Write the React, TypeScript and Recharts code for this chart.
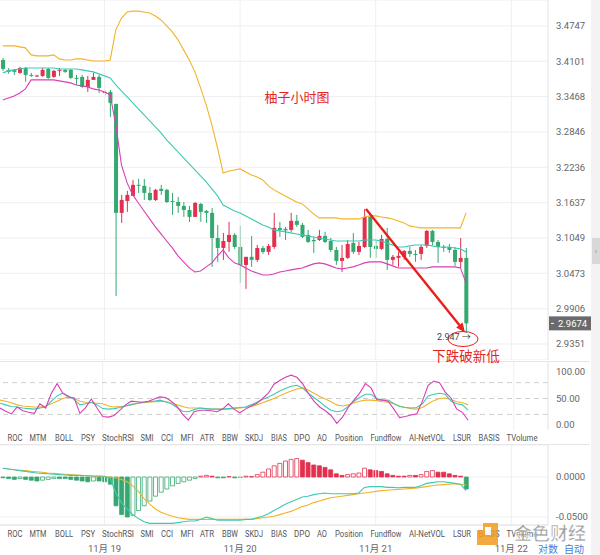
import React from 'react';
import { ComposedChart, Bar, Line, XAxis, YAxis, CartesianGrid, ReferenceLine, Cell } from 'recharts';

// hourly candles, 11/18 06:00 -> 11/21 16:00
const opens = [
  3.4125, 3.3946, 3.3946, 3.3892, 3.3981, 3.3856, 3.3838, 3.3838, 3.3963, 3.382,
  3.3928, 3.3946, 3.3946, 3.3802, 3.382, 3.3641, 3.3766, 3.382, 3.3533, 3.3551,
  3.3339, 3.1466, 3.1665, 3.175, 3.1937, 3.192, 3.1801, 3.1682, 3.1869, 3.1852,
  3.1665, 3.1648, 3.1582, 3.1515, 3.1399, 3.1615, 3.1499, 3.1466, 3.1049, 3.0886,
  3.0984, 3.11, 3.0902, 3.0609, 3.074, 3.0691, 3.0886, 3.0821, 3.0902, 3.1216,
  3.12, 3.1183, 3.1333, 3.1266, 3.11, 3.1016, 3.1016, 3.1083, 3.1, 3.0853,
  3.0674, 3.0723, 3.0968, 3.0821, 3.0902, 3.1399, 3.0919, 3.087, 3.1033, 3.0691,
  3.0723, 3.074, 3.0837, 3.0788, 3.0788, 3.0919, 3.1166, 3.0984, 3.0902, 3.0902,
  3.0853, 3.0658, 3.0723,
];
const highs = [
  3.4162, 3.3981, 3.3963, 3.3999, 3.3999, 3.3892, 3.3856, 3.3981, 3.3981, 3.3946,
  3.3981, 3.3963, 3.3963, 3.3856, 3.3856, 3.3838, 3.3892, 3.3856, 3.3587, 3.3587,
  3.3339, 3.1767, 3.1835, 3.2021, 3.2038, 3.2038, 3.1903, 3.1869, 3.1937, 3.1869,
  3.1801, 3.1733, 3.1648, 3.1582, 3.1648, 3.1632, 3.1515, 3.1549, 3.1266, 3.1133,
  3.1316, 3.1133, 3.125, 3.074, 3.1083, 3.0935, 3.0919, 3.0951, 3.1466, 3.1316,
  3.1233, 3.1466, 3.1432, 3.1299, 3.1183, 3.1067, 3.1183, 3.115, 3.1049, 3.0902,
  3.0935, 3.1016, 3.1133, 3.0984, 3.1532, 3.1432, 3.1016, 3.11, 3.1216, 3.0772,
  3.0821, 3.0853, 3.0902, 3.0853, 3.0935, 3.1183, 3.1183, 3.1016, 3.0935, 3.0951,
  3.0902, 3.1049, 3.0886,
];
const lows = [
  3.3928, 3.3874, 3.3856, 3.3874, 3.373, 3.382, 3.382, 3.382, 3.3784, 3.3802,
  3.3838, 3.3892, 3.3784, 3.3676, 3.3623, 3.3551, 3.3766, 3.3533, 3.348, 3.311,
  3.0109, 3.1299, 3.1482, 3.175, 3.1801, 3.1682, 3.1665, 3.1665, 3.1767, 3.1632,
  3.1432, 3.1466, 3.1399, 3.1316, 3.1399, 3.1316, 3.1299, 3.0577, 3.0658, 3.0691,
  3.0821, 3.087, 3.0318, 3.0222, 3.0577, 3.0658, 3.0788, 3.0772, 3.087, 3.1067,
  3.1016, 3.115, 3.1233, 3.1049, 3.0968, 3.0805, 3.1, 3.0968, 3.0821, 3.0609,
  3.0495, 3.0707, 3.0788, 3.0772, 3.0886, 3.0723, 3.0723, 3.0853, 3.0528, 3.0609,
  3.0577, 3.0691, 3.074, 3.0658, 3.0691, 3.0886, 3.0935, 3.0642, 3.0821, 3.0805,
  3.0593, 3.056, 2.952,
];
const closes = [
  3.3963, 3.391, 3.391, 3.3981, 3.3856, 3.3848, 3.3845, 3.3946, 3.3802, 3.3928,
  3.3946, 3.391, 3.3802, 3.3784, 3.3641, 3.3766, 3.382, 3.3623, 3.3551, 3.3356,
  3.1466, 3.1682, 3.1767, 3.1937, 3.192, 3.1801, 3.1682, 3.1852, 3.1835, 3.1648,
  3.1655, 3.1582, 3.1515, 3.1399, 3.1632, 3.1482, 3.1466, 3.1049, 3.0886, 3.1,
  3.11, 3.0902, 3.0609, 3.074, 3.0691, 3.0886, 3.0821, 3.0919, 3.1216, 3.1183,
  3.1175, 3.1333, 3.1266, 3.1067, 3.0984, 3.0995, 3.1083, 3.0984, 3.0853, 3.0674,
  3.0723, 3.0951, 3.0821, 3.0919, 3.1399, 3.0902, 3.087, 3.1033, 3.0691, 3.074,
  3.0756, 3.0837, 3.0788, 3.078, 3.0902, 3.1166, 3.0984, 3.0902, 3.0886, 3.0853,
  3.0658, 3.0723, 2.9674,
];

// BOLL
const bollUpper = [
  3.4381, 3.4381, 3.4381, 3.4363, 3.4345, 3.4217, 3.4199, 3.4199, 3.4199, 3.4217,
  3.4144, 3.4125, 3.4125, 3.4144, 3.4144, 3.4125, 3.4107, 3.4107, 3.4107, 3.4125,
  3.4674, 3.4893, 3.5003, 3.5021, 3.5021, 3.5003, 3.4985, 3.493, 3.4857, 3.4747,
  3.4637, 3.4491, 3.4308, 3.4125, 3.391, 3.3623, 3.3321, 3.2969, 3.257, 3.214,
  3.2174, 3.2191, 3.2208, 3.2157, 3.2106, 3.2072, 3.2021, 3.192, 3.1852, 3.1801,
  3.175, 3.1699, 3.1648, 3.1615, 3.1532, 3.1449, 3.1382, 3.1382, 3.1382, 3.1382,
  3.1365, 3.1365, 3.1365, 3.1365, 3.1398, 3.1415, 3.1415, 3.1398, 3.1382, 3.1365,
  3.1332, 3.1299, 3.1249, 3.1232, 3.1216, 3.1216, 3.1216, 3.1216, 3.1216, 3.1216,
  3.1216, 3.1216, 3.1465,
];
const bollMid = [
  3.3892, 3.3928, 3.3946, 3.3963, 3.3981, 3.3981, 3.3981, 3.3981, 3.3981, 3.3981,
  3.3963, 3.3963, 3.3963, 3.3963, 3.3946, 3.3928, 3.391, 3.3874, 3.3838, 3.3802,
  3.3676, 3.3569, 3.3462, 3.3356, 3.3251, 3.3145, 3.304, 3.2934, 3.2829, 3.2708,
  3.2604, 3.25, 3.2397, 3.2294, 3.2191, 3.2089, 3.1987, 3.1869, 3.175, 3.1598,
  3.1548, 3.1498, 3.1465, 3.1415, 3.1365, 3.1315, 3.1265, 3.1232, 3.1183, 3.1166,
  3.115, 3.1133, 3.1116, 3.11, 3.1083, 3.1066, 3.1049, 3.1033, 3.1016, 3.1,
  3.1, 3.1, 3.1, 3.1, 3.1016, 3.1016, 3.1016, 3.1, 3.0968, 3.0935,
  3.0902, 3.0902, 3.0919, 3.0935, 3.0935, 3.0935, 3.0919, 3.0902, 3.0902, 3.0902,
  3.0886, 3.087, 3.0821,
];
const bollLower = [
  3.3409, 3.3445, 3.348, 3.3533, 3.3605, 3.3766, 3.3766, 3.3766, 3.3766, 3.3766,
  3.3748, 3.373, 3.3712, 3.3676, 3.3659, 3.3641, 3.3605, 3.3587, 3.3551, 3.3498,
  3.2969, 3.2277, 3.197, 3.1767, 3.1632, 3.1498, 3.1365, 3.1232, 3.1116, 3.1,
  3.0886, 3.0756, 3.0658, 3.056, 3.0495, 3.0511, 3.0577, 3.0642, 3.0756, 3.0853,
  3.0723, 3.0642, 3.0609, 3.056, 3.0511, 3.0479, 3.0446, 3.0446, 3.0462, 3.0495,
  3.0511, 3.0528, 3.0544, 3.056, 3.0593, 3.0626, 3.0642, 3.0626, 3.0593, 3.056,
  3.0544, 3.056, 3.0577, 3.0609, 3.0642, 3.0658, 3.0658, 3.0658, 3.0626, 3.0593,
  3.056, 3.056, 3.056, 3.056, 3.056, 3.056, 3.0577, 3.0577, 3.0577, 3.0577,
  3.0577, 3.056, 3.0318,
];

// oscillator panel (0-100)
const oscPink = [
  32, 26, 21, 34, 27, 24, 22, 40, 32, 60, 78, 60, 53, 51, 22, 33, 49, 32, 16, 15,
  18, 28, 38, 45, 44, 43, 45, 49, 53, 52, 45, 35, 20, 9, 25, 28, 28, 27, 25, 30,
  40, 30, 23, 30, 36, 41, 50, 60, 77, 84, 90, 94, 90, 78, 60, 45, 34, 27, 18, 3,
  15, 33, 47, 60, 78, 70, 48, 47, 45, 30, 14, 16, 19, 21, 45, 75, 83, 80, 62, 51,
  30, 24, 9,
];
const oscTeal = [
  41, 38, 35, 34, 32, 31, 30, 32, 34, 45, 55, 60, 55, 48, 38, 40, 43, 38, 31, 30,
  31, 33, 36, 39, 41, 43, 44, 45, 47, 44, 40, 33, 26, 25, 29, 32, 31, 30, 30, 30,
  31, 32, 33, 34, 38, 43, 48, 53, 58, 64, 69, 73, 75, 70, 60, 52, 44, 35, 28, 25,
  27, 35, 45, 52, 58, 58, 50, 47, 47, 40, 35, 33, 32, 33, 40, 55, 58, 60, 58, 45,
  40, 38, 28,
];
const oscGold = [
  47, 45, 42, 38, 36, 35, 34, 34, 36, 40, 45, 50, 53, 50, 45, 43, 42, 41, 40, 36,
  34, 35, 36, 38, 40, 42, 43, 44, 45, 44, 42, 38, 35, 32, 32, 32, 31, 30, 30, 30,
  30, 31, 32, 33, 35, 38, 42, 46, 50, 55, 60, 64, 68, 70, 66, 60, 54, 49, 44, 38,
  36, 38, 42, 45, 47, 47, 46, 44, 43, 40, 36, 33, 31, 30, 33, 40, 46, 50, 51, 48,
  44, 42, 38,
];

// MACD
const macdHist = [
  -0.001, -0.002, -0.003, -0.002, -0.003, -0.004, -0.005, -0.004, -0.003, -0.002,
  -0.002, -0.002, -0.003, -0.004, -0.005, -0.006, -0.005, -0.005, -0.006, -0.009,
  -0.036, -0.047, -0.05, -0.048, -0.042, -0.036, -0.03, -0.024, -0.019, -0.015,
  -0.011, -0.008, -0.006, -0.004, -0.002, 0.001, 0.002, 0.001, -0.001, -0.001,
  0.0005, -0.001, -0.0005, 0.001, 0.0005, 0.003, 0.006, 0.01, 0.014, 0.017,
  0.02, 0.022, 0.023, 0.021, 0.018, 0.015, 0.014, 0.012, 0.009, 0.004,
  0.002, 0.003, 0.004, 0.005, 0.011, 0.009, 0.008, 0.007, 0.004, 0.002,
  0.001, 0.001, 0.002, 0.002, 0.003, 0.007, 0.008, 0.006, 0.006, 0.004,
  0.002, 0.001, -0.015,
];
const macdDif = [
  0.011, 0.01, 0.009, 0.008, 0.007, 0.006, 0.005, 0.0045, 0.004, 0.0035,
  0.003, 0.0025, 0.002, 0.002, 0.0018, 0.0015, 0.0013, 0.0012, 0.001, -0.002,
  -0.02, -0.032, -0.04, -0.047, -0.052, -0.056, -0.058, -0.058, -0.058, -0.058,
  -0.058, -0.057, -0.056, -0.055, -0.055, -0.053, -0.05, -0.052, -0.054, -0.054,
  -0.054, -0.054, -0.054, -0.053, -0.053, -0.051, -0.049, -0.046, -0.042, -0.038,
  -0.034, -0.031, -0.028, -0.025, -0.024, -0.022, -0.021, -0.02, -0.021, -0.021,
  -0.021, -0.021, -0.021, -0.02, -0.013, -0.012, -0.012, -0.012, -0.013, -0.013,
  -0.0135, -0.013, -0.013, -0.013, -0.011, -0.008, -0.007, -0.006, -0.006, -0.007,
  -0.008, -0.009, -0.017,
];
const macdDea = [
  0.011, 0.01, 0.009, 0.0085, 0.008, 0.007, 0.0065, 0.006, 0.005, 0.0045,
  0.004, 0.0035, 0.003, 0.0025, 0.002, 0.0015, 0.001, 0.0008, 0.0005, 0,
  -0.001, -0.003, -0.006, -0.011, -0.018, -0.027, -0.034, -0.04, -0.044, -0.047,
  -0.049, -0.051, -0.052, -0.053, -0.053, -0.053, -0.053, -0.053, -0.053, -0.053,
  -0.053, -0.053, -0.053, -0.053, -0.053, -0.052, -0.051, -0.05, -0.049, -0.047,
  -0.045, -0.043, -0.04, -0.037, -0.035, -0.032, -0.03, -0.028, -0.026, -0.025,
  -0.024, -0.023, -0.022, -0.021, -0.02, -0.019, -0.018, -0.017, -0.0165, -0.016,
  -0.0155, -0.015, -0.0145, -0.014, -0.013, -0.012, -0.011, -0.01, -0.0095, -0.009,
  -0.0085, -0.009, -0.01,
];

const priceTicks = [2.9351, 2.9906, 3.0473, 3.1049, 3.1637, 3.2236, 3.2846, 3.3468, 3.4101, 3.4747];
const dayTicks = [18, 42, 66, 90];
const dayLabels = ['11月 19', '11月 20', '11月 21', '11月 22'];
const indicatorNames = ['ROC', 'MTM', 'BOLL', 'PSY', 'StochRSI', 'SMI', 'CCI', 'MFI', 'ATR', 'BBW',
  'SKDJ', 'BIAS', 'DPO', 'AO', 'Position', 'Fundflow', 'AI-NetVOL', 'LSUR', 'BASIS', 'TVolume'];
const indicatorX = [15, 38, 64, 88, 118, 147, 167, 187, 207, 230, 254, 279, 302, 322, 349, 386, 427, 462, 489, 522];
const indicatorW = [15, 17, 18, 14, 32, 13, 12, 13, 14, 16, 18, 16, 16, 10, 28, 31, 36, 18, 21, 31];

const SLOTS = 97; // chart keeps empty hours on the right
const UP = '#e2304e';
const DOWN = '#35a870';
const TEAL = '#3ec9b4';
const GOLD = '#f2b32a';
const PINK = '#d83fb4';
const AXIS_W = 52;

const data = Array.from({ length: SLOTS }, (_, i) => {
  if (i >= opens.length) return { slot: i };
  const prev = i > 0 ? macdHist[i - 1] : 0;
  return {
    slot: i,
    open: opens[i], high: highs[i], low: lows[i], close: closes[i],
    range: [lows[i], highs[i]],
    bbUp: bollUpper[i], bbMid: bollMid[i], bbLow: bollLower[i],
    oa: oscPink[i], ob: oscTeal[i], oc: oscGold[i],
    hist: macdHist[i], dif: macdDif[i], dea: macdDea[i], prevHist: prev,
  };
});

const Candle = (props: any) => {
  const { x, y, width, height, payload } = props;
  if (!payload || payload.open == null) return null;
  const { open, close, high, low } = payload;
  const lh = Math.log(high);
  const ll = Math.log(low);
  const py = (v: number) => (lh === ll ? y : y + (height * (lh - Math.log(v))) / (lh - ll));
  const cx = x + width / 2;
  const color = close >= open ? UP : DOWN;
  const top = py(Math.max(open, close));
  const bot = py(Math.min(open, close));
  return (
    <g>
      <line x1={cx} x2={cx} y1={y} y2={y + height} stroke={color} strokeWidth={1} />
      <rect x={cx - 2} y={top} width={4} height={Math.max(bot - top, 1)} fill={color} />
    </g>
  );
};

const PriceTag = (props: any) => {
  const { viewBox } = props;
  if (!viewBox) return null;
  const yy = viewBox.y;
  const xx = viewBox.x + viewBox.width;
  return (
    <g>
      <rect x={xx + 1} y={yy - 7} width={42} height={14} fill="#6a6a6a" />
      <line x1={xx + 3} x2={xx + 6} y1={yy} y2={yy} stroke="#fff" strokeWidth={1} />
      <text x={xx + 10} y={yy + 3.5} fill="#fff" fontSize={9.5}>{closes[closes.length - 1].toFixed(4)}</text>
    </g>
  );
};

const histStyle = (d: any) => {
  const hollow = d.hist > d.prevHist;
  if (d.hist >= 0) return { fill: hollow ? '#fff' : UP, stroke: UP };
  return { fill: hollow ? '#fff' : DOWN, stroke: DOWN };
};

const tickStyle = { fill: '#666', fontSize: 9.5 };

const App: React.FC = () => {
  return (
    <div style={{ position: 'relative', width: 600, height: 555, background: '#fff', fontFamily: 'Roboto, "Noto Sans CJK SC", sans-serif', overflow: 'hidden' }}>
      <style>{'body{margin:0;}'}</style>

      {/* main price panel */}
      <div style={{ position: 'absolute', left: 0, top: 0 }}>
        <ComposedChart width={600} height={360} data={data} margin={{ top: 0, right: 0, left: 0, bottom: 0 }}>
          <CartesianGrid vertical={false} stroke="#efefef" />
          <XAxis dataKey="slot" type="category" hide />
          <YAxis
            orientation="right"
            width={AXIS_W}
            scale="log"
            domain={[2.9103, 3.5228]}
            allowDataOverflow
            ticks={priceTicks}
            interval={0}
            tickFormatter={(v: number) => v.toFixed(4)}
            tick={tickStyle}
            tickLine={false}
            axisLine={{ stroke: '#e2e2e2' }}
          />
          {dayTicks.map((d) => (
            <ReferenceLine key={d} x={d} stroke="#efefef" />
          ))}
          <Bar dataKey="range" shape={<Candle />} isAnimationActive={false} />
          <Line type="linear" dataKey="bbUp" stroke={GOLD} strokeWidth={1.1} dot={false} activeDot={false} connectNulls isAnimationActive={false} />
          <Line type="linear" dataKey="bbMid" stroke={TEAL} strokeWidth={1.1} dot={false} activeDot={false} connectNulls isAnimationActive={false} />
          <Line type="linear" dataKey="bbLow" stroke={PINK} strokeWidth={1.1} dot={false} activeDot={false} connectNulls isAnimationActive={false} />
          <ReferenceLine y={closes[closes.length - 1]} stroke="none" label={(p: any) => <PriceTag {...p} />} />
        </ComposedChart>
      </div>

      {/* oscillator panel */}
      <div style={{ position: 'absolute', left: 0, top: 362 }}>
        <ComposedChart width={600} height={68} data={data} margin={{ top: 0, right: 0, left: 0, bottom: 0 }}>
          <XAxis dataKey="slot" type="category" hide />
          <YAxis
            orientation="right"
            width={AXIS_W}
            domain={[-9.4, 118.9]}
            ticks={[0, 50, 100]}
            interval={0}
            tickFormatter={(v: number) => v.toFixed(2)}
            tick={tickStyle}
            tickLine={false}
            axisLine={{ stroke: '#e2e2e2' }}
          />
          {dayTicks.map((d) => (
            <ReferenceLine key={d} x={d} stroke="#efefef" />
          ))}
          {[20, 50, 80].map((v) => (
            <ReferenceLine key={v} y={v} stroke="#cfcfcf" strokeDasharray="5 4" />
          ))}
          <Line dataKey="oc" stroke={GOLD} strokeWidth={1.1} dot={false} activeDot={false} isAnimationActive={false} />
          <Line dataKey="ob" stroke={TEAL} strokeWidth={1.1} dot={false} activeDot={false} isAnimationActive={false} />
          <Line dataKey="oa" stroke={PINK} strokeWidth={1.1} dot={false} activeDot={false} isAnimationActive={false} />
        </ComposedChart>
      </div>

      {/* MACD panel */}
      <div style={{ position: 'absolute', left: 0, top: 445 }}>
        <ComposedChart width={600} height={110} data={data} margin={{ top: 0, right: 0, left: 0, bottom: 0 }}>
          <CartesianGrid vertical={false} stroke="#efefef" />
          <XAxis
            dataKey="slot"
            type="category"
            height={30}
            ticks={dayTicks}
            interval={0}
            tickFormatter={(v: number) => dayLabels[dayTicks.indexOf(v)] ?? ''}
            tick={tickStyle}
            tickLine={false}
            axisLine={{ stroke: '#e2e2e2' }}
            tickMargin={14}
          />
          <YAxis
            orientation="right"
            width={AXIS_W}
            domain={[-0.06, 0.04]}
            ticks={[-0.05, 0]}
            interval={0}
            tickFormatter={(v: number) => v.toFixed(4)}
            tick={tickStyle}
            tickLine={false}
            axisLine={{ stroke: '#e2e2e2' }}
          />
          {dayTicks.map((d) => (
            <ReferenceLine key={d} x={d} stroke="#efefef" />
          ))}
          <Bar dataKey="hist" barSize={4} isAnimationActive={false}>
            {data.map((d: any, i) => {
              if (d.hist == null) return <Cell key={i} />;
              const s = histStyle(d);
              return <Cell key={i} fill={s.fill} stroke={s.stroke} strokeWidth={0.8} />;
            })}
          </Bar>
          <Line dataKey="dea" stroke={GOLD} strokeWidth={1.1} dot={false} activeDot={false} isAnimationActive={false} />
          <Line dataKey="dif" stroke={TEAL} strokeWidth={1.1} dot={false} activeDot={false} isAnimationActive={false} />
        </ComposedChart>
      </div>

      {/* decorations, labels and hand drawn notes */}
      <svg width={600} height={555} style={{ position: 'absolute', left: 0, top: 0, pointerEvents: 'none' }}>
        <line x1={0} x2={590} y1={361.5} y2={361.5} stroke="#e6e6e6" />
        <line x1={0} x2={590} y1={444.5} y2={444.5} stroke="#e6e6e6" />
        {[437, 533].map((yy) =>
          indicatorNames.map((n, i) => (
            <text
              key={n + yy}
              x={indicatorX[i] - indicatorW[i] / 2}
              y={yy + 3.5}
              fontSize={9}
              fill="#555"
              textLength={indicatorW[i]}
              lengthAdjust="spacingAndGlyphs"
            >
              {n}
            </text>
          ))
        )}
        <rect x={591} y={0} width={9} height={555} fill="#f3f3f3" />
        <rect x={592} y={238} width={8} height={26} fill="#d8d8d8" />
        <text x={596} y={254} textAnchor="middle" fontSize={8} fill="#888">›</text>

        <text x={297} y={102} textAnchor="middle" fontSize={13} fill="#e5261f">柚子小时图</text>

        <line x1={366} y1={209} x2={459.5} y2={325.3} stroke="#e8201c" strokeWidth={2.4} />
        <polygon points="465,332.5 456.2,327.6 462.6,322.4" fill="#e8201c" />
        <ellipse cx={463} cy={339} rx={15} ry={7.5} fill="none" stroke="#e8201c" strokeWidth={1} />
        <text x={437} y={340} fontSize={9} fill="#444">2.947 →</text>
        <text x={466} y={361} textAnchor="middle" fontSize={13.5} fill="#e5261f">下跌破新低</text>

        <g opacity={0.85}>
          <path d="M483,523 H498 V545 H477 V530 H483 Z" fill="#f29b1d" />
          <rect x={485} y={527} width={6} height={8} fill="#fff" />
          <text x={550} y={540} textAnchor="middle" fontSize={18} fontWeight={700} fill="#8f8f8f" stroke="#fff" strokeWidth={0.7}>金色财经</text>
        </g>
        <text x={548} y={553} textAnchor="middle" fontSize={10} fill="#3f7fd8">对数</text>
        <text x={574} y={553} textAnchor="middle" fontSize={10} fill="#3f7fd8">自动</text>
      </svg>
    </div>
  );
};

export default App;
